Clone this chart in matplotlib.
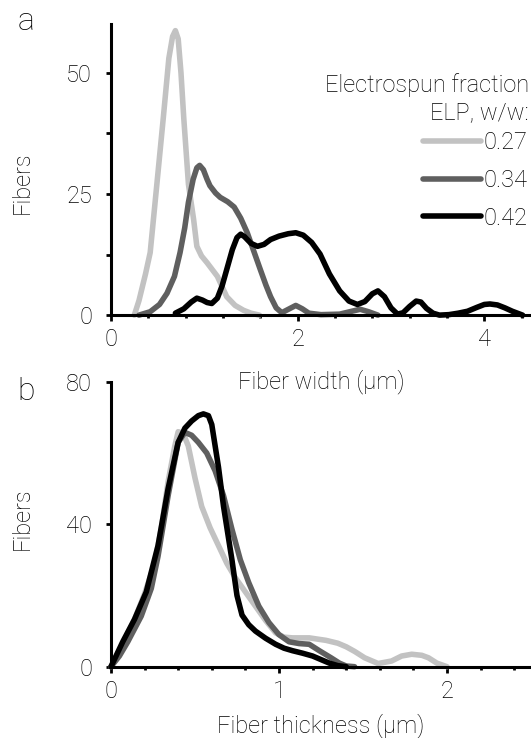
import matplotlib
matplotlib.use('Agg')
import matplotlib.pyplot as plt
from matplotlib.ticker import MultipleLocator

plt.rcParams['font.family'] = ['Roboto', 'DejaVu Sans']
plt.rcParams['font.weight'] = 'light'
plt.rcParams['axes.labelweight'] = 'light'

# panel a: fiber width distributions
labels = ['0.27', '0.34', '0.42']
colors = ['#c2c2c2', '#5f5f5f', '#000000']

width_x_027 = [0.25, 0.30, 0.37, 0.42, 0.49, 0.56, 0.62, 0.66, 0.69, 0.72, 0.75,
               0.78, 0.83, 0.885, 0.92, 0.97, 1.03, 1.14, 1.24, 1.33, 1.42, 1.50, 1.59]
width_y_027 = [0, 3, 8.5, 12.9, 26.7, 40.6, 53, 57.5, 58.7, 57, 50,
               40.6, 27, 19.8, 14.2, 12.2, 10.8, 8, 3.8, 2, 1, 0.4, 0]

width_x_034 = [0.30, 0.42, 0.52, 0.60, 0.68, 0.74, 0.79, 0.83, 0.88, 0.92, 0.95,
               0.99, 1.03, 1.06, 1.12, 1.17, 1.25, 1.32, 1.39, 1.46, 1.53, 1.60,
               1.66, 1.71, 1.77, 1.83, 1.90, 1.98, 2.05, 2.12, 2.25, 2.45, 2.58,
               2.67, 2.76, 2.86]
width_y_034 = [0, 0.7, 2.2, 4.5, 8, 12.9, 18, 23.3, 28, 30.4, 30.9,
               30, 28, 26.7, 25.2, 24.3, 23.4, 22.3, 20, 17, 13.2, 9.4,
               6.2, 3.8, 1.5, 0.5, 1.2, 2, 1.3, 0.4, 0.1, 0.2, 0.8,
               1.2, 0.7, 0]

width_x_042 = [0.69, 0.78, 0.86, 0.92, 0.98, 1.03, 1.08, 1.14, 1.19, 1.24, 1.30,
               1.35, 1.39, 1.43, 1.50, 1.57, 1.64, 1.71, 1.80, 1.90, 1.98, 2.06,
               2.15, 2.24, 2.34, 2.45, 2.55, 2.64, 2.72, 2.80, 2.86, 2.93, 3.00,
               3.07, 3.13, 3.20, 3.27, 3.32, 3.38, 3.45, 3.52, 3.62, 3.72, 3.82,
               3.92, 4.00, 4.06, 4.14, 4.22, 4.30, 4.41]
width_y_042 = [0.4, 1.3, 2.7, 3.5, 3.1, 2.6, 2.4, 3.5, 6, 9.4, 13.5,
               16, 16.7, 16.2, 14.8, 14.2, 14.6, 15.6, 16.3, 16.8, 17, 16.5,
               15, 12.6, 8.5, 5, 2.9, 2.2, 2.8, 4.4, 5, 3.8, 1.5,
               0.2, 0.5, 1.8, 2.9, 2.7, 1.4, 0.4, 0, 0.1, 0.4, 0.8,
               1.6, 2.2, 2.3, 2.1, 1.5, 0.8, 0]

# panel b: fiber thickness distributions
thick_x_027 = [0, 0.07, 0.14, 0.20, 0.26, 0.30, 0.34, 0.38, 0.40, 0.43, 0.46,
               0.50, 0.54, 0.59, 0.64, 0.69, 0.74, 0.80, 0.86, 0.92, 0.98, 1.03,
               1.08, 1.18, 1.28, 1.35, 1.40, 1.45, 1.51, 1.59, 1.67, 1.73, 1.79,
               1.85, 1.89, 1.94, 2.00]
thick_y_027 = [0, 6.5, 13.3, 20.5, 29, 39, 52, 62, 66, 65.5, 62,
               53, 45, 39, 34, 29, 25, 21, 17, 13, 9.5, 8.3,
               8.1, 8.1, 7.4, 6.6, 5.6, 4.3, 2.5, 0.9, 1.6, 3, 3.5,
               3.2, 2.5, 1, 0]

thick_x_034 = [0, 0.05, 0.10, 0.18, 0.24, 0.28, 0.34, 0.40, 0.44, 0.48, 0.52,
               0.57, 0.62, 0.67, 0.72, 0.77, 0.82, 0.88, 0.94, 1.00, 1.06, 1.12,
               1.18, 1.24, 1.31, 1.36, 1.40, 1.45]
thick_y_034 = [0, 3, 7, 14.2, 22, 31, 48, 63, 65.8, 65, 63,
               60, 55, 48, 38.6, 30, 23.6, 17, 12.4, 9, 7, 6.5,
               6.3, 4.5, 2.5, 1, 0.2, 0]

thick_x_042 = [0, 0.07, 0.14, 0.21, 0.28, 0.34, 0.40, 0.44, 0.48, 0.52, 0.55,
               0.58, 0.60, 0.62, 0.64, 0.67, 0.70, 0.72, 0.75, 0.78, 0.82, 0.86,
               0.92, 0.98, 1.03, 1.08, 1.14, 1.20, 1.25, 1.30, 1.35, 1.40]
thick_y_042 = [0, 7, 13.3, 21, 34, 50, 63, 67, 69, 70.5, 71,
               70.5, 68, 62, 56, 45, 36, 30, 20, 14.5, 11.8, 10,
               8, 6.3, 5.2, 4.5, 3.8, 3, 2, 1, 0.3, 0]

width_series = [(width_x_027, width_y_027), (width_x_034, width_y_034),
                (width_x_042, width_y_042)]
thick_series = [(thick_x_027, thick_y_027), (thick_x_034, thick_y_034),
                (thick_x_042, thick_y_042)]

FS = 17

fig = plt.figure(figsize=(5.31, 7.38), dpi=100)
ax_a = fig.add_axes([0.209, 0.573, 0.791, 0.394])
ax_b = fig.add_axes([0.209, 0.0966, 0.791, 0.386])
ax_b.patch.set_visible(False)

lines = []
for (xs, ys), c, lab in zip(width_series, colors, labels):
    ln, = ax_a.plot(xs, ys, color=c, lw=4, label=lab, solid_capstyle='round',
                    solid_joinstyle='round', clip_on=False, zorder=2)
    lines.append(ln)
for (xs, ys), c in zip(thick_series, colors):
    ax_b.plot(xs, ys, color=c, lw=4, solid_capstyle='round',
              solid_joinstyle='round', clip_on=False, zorder=2)

ax_a.set_xlim(0, 4.5)
ax_a.set_ylim(0, 60)
ax_a.set_xticks([0, 2, 4])
ax_a.xaxis.set_minor_locator(MultipleLocator(0.4))
ax_a.set_yticks([0, 25, 50])
ax_a.yaxis.set_minor_locator(MultipleLocator(12.5))

ax_b.set_xlim(0, 2.5)
ax_b.set_ylim(0, 80)
ax_b.set_xticks([0, 1, 2])
ax_b.xaxis.set_minor_locator(MultipleLocator(0.2))
ax_b.set_yticks([0, 40, 80])

for ax in (ax_a, ax_b):
    for s in ('top', 'right'):
        ax.spines[s].set_visible(False)
    for s in ('left', 'bottom'):
        ax.spines[s].set_linewidth(2.2)
        ax.spines[s].set_zorder(3)
    ax.tick_params(axis='both', which='both', direction='out', width=2,
                   labelsize=FS, colors='black')
    ax.tick_params(axis='y', which='both', length=3.6, pad=10)
    ax.tick_params(axis='x', which='major', length=4.5, pad=5)
    ax.tick_params(axis='x', which='minor', length=2.5)
    ax.set_ylabel('Fibers', fontsize=FS)

ax_a.set_xlabel('Fiber width (µm)', fontsize=FS)
ax_b.set_xlabel('Fiber thickness (µm)', fontsize=FS)
ax_a.yaxis.set_label_coords(-0.183, 0.454)
ax_b.yaxis.set_label_coords(-0.183, 0.518)
ax_a.xaxis.set_label_coords(0.5, -0.186)
ax_b.xaxis.set_label_coords(0.5, -0.162)

fig.text(529 / 531, 1 - 98.5 / 738, 'Electrospun fraction\nELP, w/w:', fontsize=FS,
         ha='right', va='center', multialignment='right', linespacing=1.27)
ax_a.legend(handles=lines, loc='upper right',
            bbox_to_anchor=(527 / 531, 1 - 131 / 738),
            bbox_transform=fig.transFigure, frameon=False, fontsize=FS,
            handlelength=2.46, handletextpad=0.08, labelspacing=0.63,
            borderpad=0, borderaxespad=0)

fig.text(26 / 531, 1 - 21 / 738, 'a', fontsize=23, ha='center', va='center')
fig.text(26 / 531, 1 - 391 / 738, 'b', fontsize=23, ha='center', va='center')

fig.savefig('out.png', dpi=100)
